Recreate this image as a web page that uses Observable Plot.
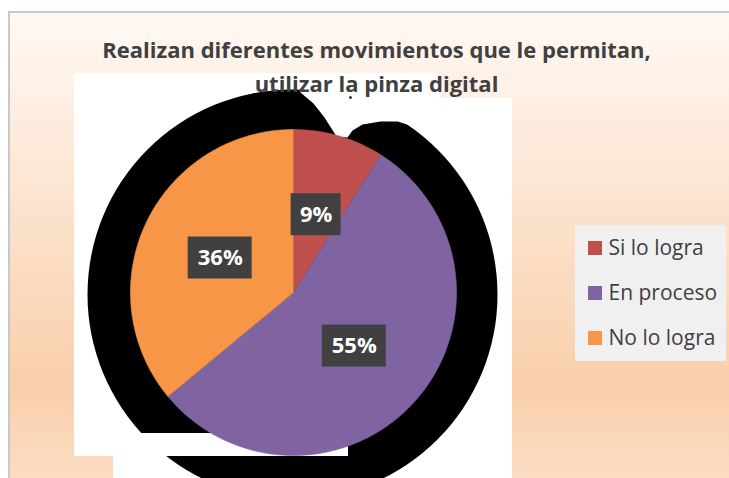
<!DOCTYPE html>
<html><head><meta charset="utf-8">
<script src="https://cdn.jsdelivr.net/npm/d3@7"></script>
<script src="https://cdn.jsdelivr.net/npm/@observablehq/plot@0.6"></script>
<style>
html,body{margin:0;padding:0;background:#fff;width:729px;height:478px;overflow:hidden;}
#bg{position:absolute;left:8px;top:11px;width:721px;height:467px;border-left:2px solid #c8c8c8;border-top:2px solid #c8c8c8;box-sizing:border-box;
background:linear-gradient(to bottom,#fff9f4 0%,#f9cfab 80%,#fbdcc3 100%);}
#chart{position:absolute;left:0;top:0;}
</style></head>
<body><div id="bg"></div><div id="chart"></div>
<script>
// ---- data ----
const titleLines = ["Realizan diferentes movimientos que le permitan,", "utilizar la pinza digital"];
const categories = ["Si lo logra", "En proceso", "No lo logra"];
const values = [9, 55, 36];
const labels = ["9%", "55%", "36%"];
const colors = ["#c0504d", "#8064a2", "#f79646"];

// ---- layout (pixels) ----
const W = 729, H = 478;
const pieCx = 293, pieCy = 292, pieR = 163, labelR = 81;
const font = "Open Sans, DejaVu Sans, sans-serif";

// pie geometry from values
const arcs = d3.pie().sort(null).value(d => d)(values);
const slicePts = arcs.flatMap((a, i) => {
  const pts = [{x: pieCx, y: pieCy, k: categories[i]}];
  const n = Math.max(2, Math.ceil((a.endAngle - a.startAngle) / 0.01));
  for (let j = 0; j <= n; j++) {
    const t = a.startAngle + (a.endAngle - a.startAngle) * j / n;
    pts.push({x: pieCx + pieR * Math.sin(t), y: pieCy - pieR * Math.cos(t), k: categories[i]});
  }
  return pts;
});
const labelData = arcs.map((a, i) => {
  const t = (a.startAngle + a.endAngle) / 2;
  const w = 14 * labels[i].length + 22;
  const x = pieCx + labelR * Math.sin(t), y = pieCy - labelR * Math.cos(t);
  return {text: labels[i], x, y, x1: x - w / 2, x2: x + w / 2, y1: y - 21, y2: y + 21};
});

// decorative background artefacts (white panels, black shadow)
const panels = [
  {x1: 74, x2: 437, y1: 73, y2: 98},
  {x1: 74, x2: 512, y1: 98, y2: 456},
  {x1: 113, x2: 512, y1: 456, y2: H}
];
const shadow = [{x: 292, y: 294}];
const topCut = [
  {x: 296, y: 78}, {x: 300, y: 92}, {x: 313, y: 103}, {x: 324, y: 117}, {x: 331, y: 128},
  {x: 336, y: 136}, {x: 347, y: 137}, {x: 352, y: 130}, {x: 362, y: 124}, {x: 380, y: 121},
  {x: 397, y: 121}, {x: 410, y: 125}, {x: 421, y: 133}, {x: 440, y: 120}, {x: 440, y: 78}
];
const gapCut = [{x1: 74, x2: 348, y1: 433, y2: 456}];

// legend
const legendBox = [{x1: 575, x2: 726, y1: 225, y2: 361}];
const legendItems = categories.map((c, i) => ({c, y: 248 + i * 45}));

const titleData = titleLines.map((t, i) => ({t, y: 50 + i * 34}));

const chart = Plot.plot({
  width: W, height: H,
  marginTop: 0, marginRight: 0, marginBottom: 0, marginLeft: 0,
  x: {domain: [0, W], range: [0, W], axis: null},
  y: {domain: [0, H], range: [0, H], axis: null},
  color: {domain: categories, range: colors},
  style: {background: "transparent", overflow: "visible"},
  marks: [
    Plot.rect(panels, {x1: "x1", x2: "x2", y1: "y1", y2: "y2", fill: "white"}),
    Plot.dot(shadow, {x: "x", y: "y", r: 205, fill: "black", stroke: null}),
    Plot.line(topCut, {x: "x", y: "y", fill: "white", stroke: null}),
    Plot.rect(gapCut, {x1: "x1", x2: "x2", y1: "y1", y2: "y2", fill: "white"}),
    Plot.dot([{x: 350, y: 97}], {x: "x", y: "y", r: 1.3, fill: "black", stroke: null}),
    Plot.line(slicePts, {x: "x", y: "y", z: "k", fill: "k", stroke: "k", strokeWidth: 0.6}),
    Plot.rect(labelData, {x1: "x1", x2: "x2", y1: "y1", y2: "y2", fill: "#404040"}),
    Plot.text(labelData, {x: "x", y: "y", text: "text", fill: "white", fontSize: 22, fontWeight: "bold", fontFamily: font}),
    Plot.text(titleData, {x: () => 376, y: "y", text: "t", fill: "#404040", fontSize: 22, fontWeight: "bold", fontFamily: font}),
    Plot.rect(legendBox, {x1: "x1", x2: "x2", y1: "y1", y2: "y2", fill: "#f0f0f0"}),
    Plot.rect(legendItems, {x1: () => 588, x2: () => 602, y1: d => d.y - 7, y2: d => d.y + 7, fill: "c"}),
    Plot.text(legendItems, {x: () => 608, y: "y", text: "c", textAnchor: "start", fill: "#404040", fontSize: 21, fontFamily: font})
  ]
});
document.getElementById("chart").appendChild(chart);
</script>
</body></html>
